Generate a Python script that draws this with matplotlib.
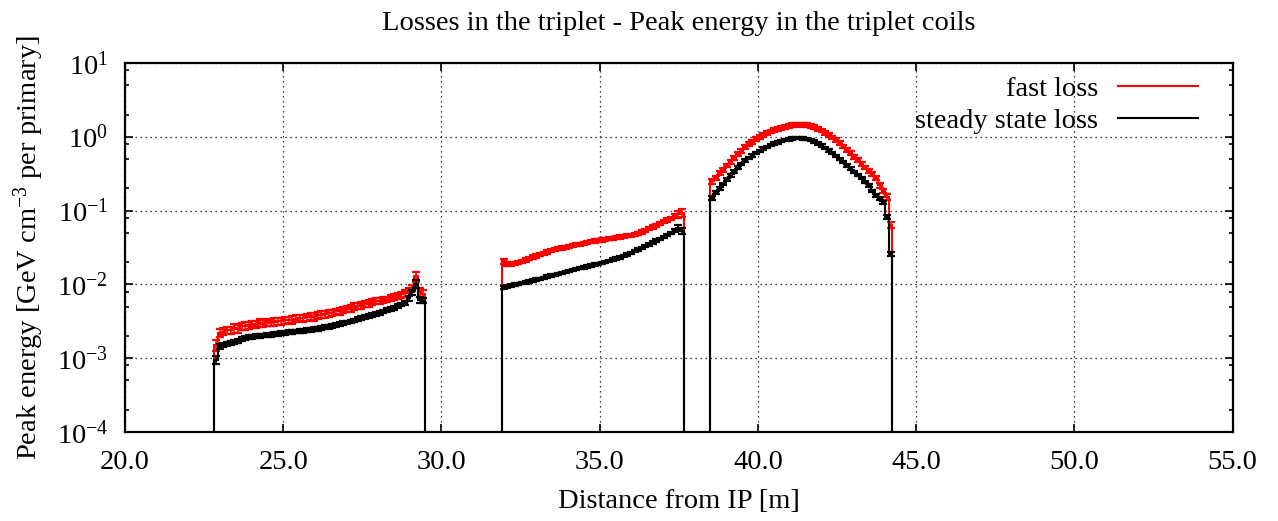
import numpy as np
import matplotlib.pyplot as plt
from matplotlib.lines import Line2D
from matplotlib.ticker import FixedLocator, FuncFormatter, FormatStrFormatter

plt.rcParams['font.family'] = 'Liberation Serif'
plt.rcParams['mathtext.fontset'] = 'custom'
plt.rcParams['mathtext.rm'] = 'Liberation Serif'
plt.rcParams['mathtext.it'] = 'Liberation Serif:italic'

# --- data ----------------------------------------------------------------
# three coil regions along the triplet [m]
segStart = [22.82, 31.91, 38.50]
segEnd = [29.48, 37.65, 44.25]

# fast loss, peak energy [GeV cm^-3 per primary]
fast1 = np.array([1.5, 2.2, 2.3, 2.4, 2.4, 2.55, 2.5, 2.7, 2.75, 2.8,
                  2.9, 2.85, 3.0, 2.95, 3.05, 3.0, 3.1, 3.2, 3.15, 3.25,
                  3.3, 3.3, 3.45, 3.5, 3.5, 3.6, 3.7, 3.65, 3.8, 3.9,
                  3.95, 4.05, 4.1, 4.3, 4.35, 4.55, 4.7, 4.75, 5.0, 5.1,
                  5.2, 5.5, 5.55, 5.75, 5.95, 5.95, 6.2, 6.25, 6.5, 6.75,
                  6.95, 7.3, 7.6, 8.3, 9.0, 12.8, 7.8, 7.5]) * 1e-3
fast2 = np.array([2.05, 1.9, 1.88, 1.92, 1.98, 2.05, 2.15, 2.25, 2.35, 2.45,
                  2.55, 2.65, 2.75, 2.85, 2.95, 3.05, 3.12, 3.2, 3.28, 3.36,
                  3.44, 3.52, 3.6, 3.7, 3.8, 3.87, 3.93, 4.0, 4.08, 4.15,
                  4.22, 4.3, 4.38, 4.46, 4.55, 4.65, 4.8, 4.95, 5.15, 5.4,
                  5.7, 6.0, 6.35, 6.7, 7.05, 7.45, 7.9, 8.4, 9.0, 9.3]) * 1e-2
fast3 = np.array([0.25, 0.28, 0.32, 0.36, 0.41, 0.46, 0.52, 0.58, 0.65, 0.72,
                  0.79, 0.86, 0.93, 1.0, 1.06, 1.12, 1.18, 1.23, 1.28, 1.33,
                  1.37, 1.41, 1.44, 1.46, 1.47, 1.46, 1.44, 1.4, 1.35, 1.29,
                  1.22, 1.14, 1.06, 0.98, 0.9, 0.82, 0.74, 0.67, 0.6, 0.54,
                  0.48, 0.43, 0.385, 0.345, 0.31, 0.275, 0.22, 0.185, 0.155, 0.064])

# steady state loss
steady1 = np.array([0.95, 1.45, 1.5, 1.55, 1.6, 1.65, 1.7, 1.8, 1.9, 1.93,
                    1.96, 1.98, 2.0, 2.03, 2.06, 2.09, 2.12, 2.15, 2.18, 2.21,
                    2.24, 2.27, 2.3, 2.33, 2.36, 2.39, 2.42, 2.46, 2.5, 2.55,
                    2.62, 2.68, 2.75, 2.82, 2.9, 2.98, 3.05, 3.15, 3.25, 3.38,
                    3.5, 3.6, 3.72, 3.85, 4.0, 4.15, 4.3, 4.45, 4.65, 4.85,
                    5.1, 5.35, 5.6, 6.5, 7.8, 10.2, 6.2, 6.0]) * 1e-3
steady2 = np.array([0.91, 0.93, 0.96, 0.99, 1.01, 1.04, 1.07, 1.1, 1.13, 1.16,
                    1.19, 1.23, 1.27, 1.31, 1.35, 1.39, 1.43, 1.47, 1.52, 1.57,
                    1.61, 1.66, 1.7, 1.75, 1.8, 1.85, 1.9, 1.96, 2.02, 2.09,
                    2.16, 2.24, 2.33, 2.43, 2.54, 2.68, 2.82, 2.97, 3.13, 3.3,
                    3.5, 3.7, 3.92, 4.15, 4.4, 4.7, 5.0, 5.35, 5.9, 5.3]) * 1e-2
steady3 = np.array([0.15, 0.175, 0.2, 0.23, 0.265, 0.3, 0.34, 0.385, 0.43, 0.475,
                    0.52, 0.56, 0.6, 0.645, 0.69, 0.73, 0.77, 0.81, 0.845, 0.875,
                    0.9, 0.925, 0.945, 0.96, 0.96, 0.95, 0.93, 0.9, 0.86, 0.815,
                    0.765, 0.71, 0.655, 0.6, 0.55, 0.5, 0.455, 0.41, 0.37, 0.335,
                    0.305, 0.275, 0.245, 0.22, 0.185, 0.16, 0.145, 0.13, 0.083, 0.026])

# relative statistical errors [%]
fastErr1 = [16, 13, 11, 12, 10, 13, 11, 10, 12, 11, 10, 11, 12, 10, 11, 10, 12, 11, 10, 11,
            10, 12, 11, 10, 11, 10, 11, 12, 10, 11, 10, 11, 10, 9, 11, 10, 9, 10, 11, 9,
            10, 9, 10, 9, 10, 9, 10, 9, 9, 10, 9, 9, 10, 9, 10, 15, 13, 13]
fastErr2 = [9, 6, 6, 5, 6, 5, 6, 5, 5, 6, 5, 5, 6, 5, 5, 5, 6, 5, 5, 5,
            5, 5, 5, 5, 5, 5, 5, 5, 5, 5, 5, 5, 5, 5, 5, 5, 5, 5, 5, 5,
            5, 5, 5, 5, 5, 5, 5, 6, 11, 13]
fastErr3 = [7, 6, 6, 6, 6, 6, 6, 6, 6, 6, 6, 6, 6, 6, 6, 6, 6, 6, 6, 6,
            6, 6, 6, 6, 6, 6, 6, 6, 6, 6, 6, 6, 6, 6, 6, 6, 6, 6, 6, 6,
            6, 6, 6, 6, 6, 6, 7, 7, 9, 9]
steadyErr1 = [11, 7, 6, 6, 6, 6, 6, 6, 6, 6, 6, 6, 6, 6, 6, 6, 6, 6, 6, 6,
              6, 6, 6, 6, 6, 6, 6, 6, 6, 6, 6, 6, 6, 6, 6, 6, 6, 6, 6, 6,
              6, 6, 6, 6, 6, 6, 6, 6, 6, 6, 6, 6, 6, 7, 8, 11, 9, 8]
steadyErr2 = [5, 4, 4, 4, 4, 4, 4, 4, 4, 4, 4, 4, 4, 4, 4, 4, 4, 4, 4, 4,
              4, 4, 4, 4, 4, 4, 4, 4, 4, 4, 4, 4, 4, 4, 4, 4, 4, 4, 4, 4,
              4, 4, 4, 4, 4, 4, 4, 4, 7, 10]
steadyErr3 = [6, 4, 4, 4, 4, 4, 4, 4, 4, 4, 4, 4, 4, 4, 4, 4, 4, 4, 4, 4,
              4, 4, 4, 4, 4, 4, 4, 4, 4, 4, 4, 4, 4, 4, 4, 4, 4, 4, 4, 4,
              4, 4, 4, 4, 4, 4, 4, 5, 6, 6]

fast = [fast1, fast2, fast3]
steady = [steady1, steady2, steady3]
fastErr = [fastErr1, fastErr2, fastErr3]
steadyErr = [steadyErr1, steadyErr2, steadyErr3]

xTicks = [20, 25, 30, 35, 40, 45, 50, 55]
yTicks = [1e-4, 1e-3, 1e-2, 1e-1, 1e0, 1e1]

# --- drawing ---------------------------------------------------------------
fig = plt.figure(figsize=(12.78, 5.21), dpi=100)
ax = fig.add_axes([125/1278, 1 - 432/521, (1232.7 - 125)/1278, (432 - 63)/521])
ax.set_yscale('log')

series = [(fast, fastErr, '#ff0000'), (steady, steadyErr, '#000000')]
for vals, errs, col in series:
    for k in range(3):
        edges = np.linspace(segStart[k], segEnd[k], len(vals[k]) + 1)
        centres = 0.5 * (edges[1:] + edges[:-1])
        v = vals[k]
        e = v * np.array(errs[k]) / 100.0
        ax.stairs(v, edges, baseline=1e-7, color=col, lw=1.5, zorder=3)
        ax.errorbar(centres, v, yerr=e, fmt='none', ecolor=col, elinewidth=1.2,
                    capsize=2.7, capthick=1.6, zorder=3)

ax.set_xlim(20, 55)
ax.set_ylim(1e-4, 1e1)
ax.xaxis.set_major_locator(FixedLocator(xTicks))
ax.xaxis.set_major_formatter(FormatStrFormatter('%.1f'))
ax.yaxis.set_major_locator(FixedLocator(yTicks))
ax.yaxis.set_major_formatter(FuncFormatter(lambda v, p: '$10^{%d}$' % round(np.log10(v))))
minors = [m * 10.0 ** d for d in range(-4, 1) for m in (2, 5, 8)]
ax.yaxis.set_minor_locator(FixedLocator(minors))
ax.xaxis.set_minor_locator(FixedLocator([]))

ax.tick_params(which='both', direction='in', top=True, right=True, width=1.2)
ax.tick_params(which='major', length=6, labelsize=20.5)
ax.tick_params(axis='x', which='major', pad=13)
ax.tick_params(axis='y', which='major', pad=12)
ax.tick_params(which='minor', length=3)
for s in ax.spines.values():
    s.set_linewidth(1.6)

ax.grid(True, which='major', color='black', linestyle=(0, (1, 3)), lw=0.9)
ax.set_axisbelow(True)

ax.set_title('Losses in the triplet - Peak energy in the triplet coils', fontsize=20.5, pad=24)
ax.set_xlabel('Distance from IP [m]', fontsize=20.5, labelpad=10)
ax.set_ylabel('Peak energy [GeV cm$^{-3}$ per primary]', fontsize=20.5, labelpad=8)

handles = [Line2D([], [], color='#ff0000', lw=1.5), Line2D([], [], color='#000000', lw=1.5)]
leg = ax.legend(handles, ['fast loss', 'steady state loss'], loc='upper right',
                bbox_to_anchor=(0.9687, 0.964), frameon=False, markerfirst=False,
                handlelength=2.8, handletextpad=0.7, fontsize=20.5,
                borderpad=0, borderaxespad=0, labelspacing=0.22)
leg._legend_handle_box._children[0].align = 'right'

fig.savefig('out.png', dpi=100)
